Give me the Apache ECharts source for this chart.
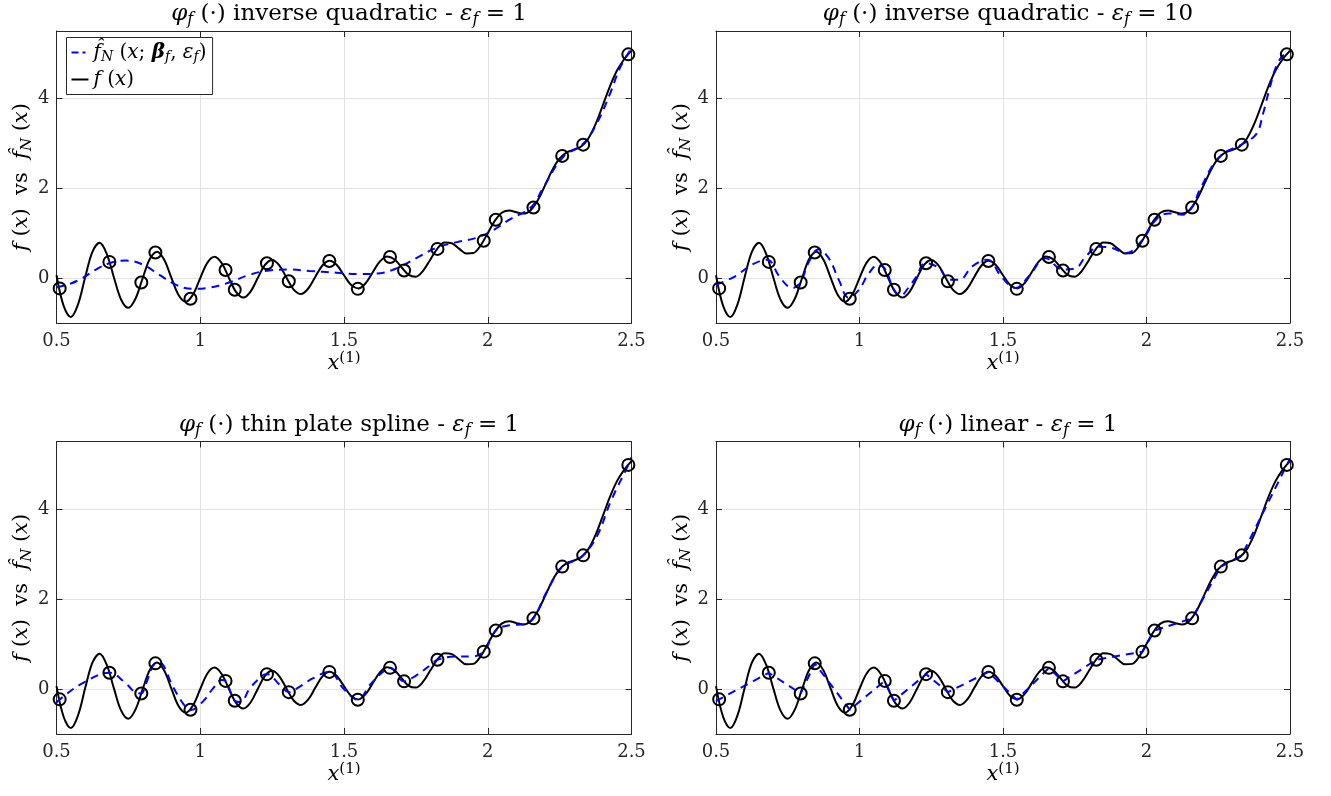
<!DOCTYPE html>
<html><head><meta charset="utf-8">
<script src="https://cdn.jsdelivr.net/npm/echarts@6/dist/echarts.min.js"></script>
<style>html,body{margin:0;padding:0;background:#fff}#c{width:1331px;height:796px}</style>
</head><body><div id="c"></div>
<script>
// ---------- data ----------
const xTicks = [0.5, 1, 1.5, 2, 2.5];
const yTicks = [0, 2, 4];

// true function f(x), sampled along x
const fX = [0.5,0.525,0.55,0.575,0.6,0.625,0.65,0.675,0.7,0.725,0.75,0.775,0.8,0.825,0.85,0.875,0.9,0.925,0.95,0.975,
  1.0,1.025,1.05,1.075,1.1,1.125,1.15,1.175,1.2,1.225,1.25,1.275,1.3,1.325,1.35,1.375,1.4,1.425,1.45,1.475,
  1.5,1.525,1.55,1.575,1.6,1.625,1.65,1.675,1.7,1.725,1.75,1.775,1.8,1.825,1.85,1.875,1.9,1.925,1.95,1.975,
  2.0,2.025,2.05,2.075,2.1,2.125,2.15,2.175,2.2,2.225,2.25,2.275,2.3,2.325,2.35,2.375,2.4,2.425,2.45,2.475,2.5];
const fY = [0.0625,-0.6225,-0.8681,-0.5823,0.0256,0.5855,0.7842,0.5350,0.0081,-0.4820,
  -0.6628,-0.4536,0.0016,0.4295,0.5888,0.4043,0.0001,-0.3822,-0.5263,-0.3626,
  0.0,0.3449,0.4762,0.3289,0.0001,-0.3140,-0.4343,-0.3000,0.0016,0.2912,
  0.4039,0.2830,0.0081,-0.2557,-0.3554,-0.2373,0.0256,0.2807,0.3858,0.2906,
  0.0625,-0.1558,-0.2311,-0.1152,0.1296,0.3702,0.4815,0.4187,0.2401,0.0713,
  0.0307,0.1616,0.4096,0.6570,0.7923,0.7748,0.6561,0.5484,0.5581,0.7247,
  1.0,1.2784,1.4594,1.5059,1.4641,1.4354,1.5164,1.7435,2.0736,2.4108,
  2.6636,2.7981,2.8561,2.9301,3.1087,3.4256,3.8416,4.2692,4.6246,4.8762,5.0625];

// training samples (circles)
const sampleX = [0.511,0.684,0.795,0.844,0.966,1.088,1.12,1.232,1.308,1.449,1.548,1.660,1.709,1.825,1.986,2.028,2.159,2.259,2.332,2.489];
const sampleY = [-0.23,0.36,-0.10,0.57,-0.46,0.18,-0.26,0.33,-0.07,0.38,-0.24,0.47,0.17,0.65,0.83,1.30,1.57,2.72,2.97,4.98];

// inverse quadratic, eps = 1
const iq1X = [0.5,0.55,0.59,0.64,0.684,0.742,0.8,0.858,0.916,0.974,1.033,1.10,1.17,1.24,1.31,1.38,1.474,1.55,1.614,1.684,1.753,1.823,1.893,1.963,2.02,2.08,2.124,2.16,2.19,2.263,2.332,2.379,2.425,2.46,2.5];
const iq1Y = [-0.21,-0.12,0.0,0.2,0.33,0.39,0.30,0.07,-0.15,-0.24,-0.21,-0.10,0.07,0.17,0.19,0.16,0.12,0.09,0.10,0.22,0.45,0.68,0.80,0.90,1.07,1.32,1.46,1.64,1.98,2.70,2.99,3.44,4.10,4.68,5.12];

// inverse quadratic, eps = 10
const iq10X = [0.5,0.567,0.626,0.678,0.719,0.75,0.768,0.783,0.797,0.823,0.858,0.893,0.928,0.963,0.998,1.033,1.067,1.09,1.12,1.143,1.172,1.195,1.23,1.277,1.312,1.347,1.393,1.445,1.498,1.544,1.59,1.649,1.707,1.753,1.788,1.835,1.88,1.928,1.986,2.033,2.079,2.126,2.16,2.185,2.255,2.336,2.383,2.406,2.43,2.453,2.477,2.5];
const iq10Y = [-0.15,0.04,0.30,0.41,0.05,-0.18,-0.22,-0.17,-0.08,0.35,0.64,0.44,-0.04,-0.44,-0.26,0.11,0.30,0.19,-0.26,-0.39,-0.2,0.0,0.33,0.22,-0.04,-0.04,0.26,0.41,0.0,-0.22,0.04,0.44,0.19,0.22,0.48,0.70,0.67,0.56,0.85,1.30,1.44,1.41,1.59,1.96,2.70,2.99,3.21,3.66,4.25,4.73,4.96,5.05];

// thin plate spline
const tpsX = [0.5,0.511,0.591,0.684,0.742,0.775,0.795,0.81,0.844,0.858,0.905,0.94,0.966,1.009,1.044,1.075,1.088,1.12,1.14,1.172,1.219,1.232,1.277,1.308,1.335,1.393,1.449,1.498,1.548,1.59,1.637,1.66,1.709,1.753,1.80,1.825,1.893,1.94,1.986,2.028,2.079,2.126,2.159,2.20,2.259,2.30,2.332,2.38,2.43,2.489,2.5];
const tpsY = [-0.30,-0.23,0.13,0.36,0.12,-0.08,-0.10,0.10,0.57,0.58,0.05,-0.32,-0.47,-0.28,0.01,0.2,0.18,-0.26,-0.29,0.01,0.31,0.33,0.09,-0.07,0.01,0.24,0.38,0.01,-0.24,0.09,0.39,0.47,0.17,0.31,0.53,0.65,0.72,0.72,0.83,1.30,1.42,1.44,1.57,2.10,2.72,2.85,2.97,3.40,4.20,4.98,5.15];

// linear
const linX = [0.5,0.511,0.684,0.795,0.844,0.966,1.088,1.12,1.232,1.308,1.449,1.548,1.660,1.709,1.825,1.986,2.028,2.159,2.259,2.332,2.489,2.5];
const linY = [-0.27,-0.23,0.36,-0.10,0.57,-0.46,0.18,-0.26,0.33,-0.07,0.38,-0.24,0.47,0.17,0.65,0.83,1.30,1.57,2.72,2.97,4.98,5.12];

const panelTitles = [
  '{i|φ}{s|f}{r| (·) inverse quadratic - }{i|ε}{s|f}{r| = 1}',
  '{i|φ}{s|f}{r| (·) inverse quadratic - }{i|ε}{s|f}{r| = 10}',
  '{i|φ}{s|f}{r| (·) thin plate spline - }{i|ε}{s|f}{r| = 1}',
  '{i|φ}{s|f}{r| (·) linear - }{i|ε}{s|f}{r| = 1}'
];
const approxX = [iq1X, iq10X, tpsX, linX];
const approxY = [iq1Y, iq10Y, tpsY, linY];
const approxSmooth = [0.4, 0.4, 0.4, false];

// ---------- chart ----------
const SERIF = 'DejaVu Serif';
const AX = '#262626';
function richSet(fs) {
  const sub = Math.round(fs * 0.7);
  return {
    i: {fontFamily: SERIF, fontStyle: 'italic', fontWeight: 'normal', fontSize: fs, lineHeight: fs + 4, color: '#000'},
    r: {fontFamily: SERIF, fontStyle: 'normal', fontWeight: 'normal', fontSize: fs, lineHeight: fs + 4, color: '#000'},
    b: {fontFamily: SERIF, fontStyle: 'italic', fontWeight: 'bold', fontSize: fs, lineHeight: fs + 4, color: '#000'},
    s: {fontFamily: SERIF, fontStyle: 'italic', fontWeight: 'normal', fontSize: sub, lineHeight: sub, verticalAlign: 'bottom', color: '#000'},
    p: {fontFamily: SERIF, fontStyle: 'normal', fontWeight: 'normal', fontSize: sub, lineHeight: sub, verticalAlign: 'top', color: '#000'}
  };
}
const zip = (a, b) => a.map((v, k) => [v, b[k]]);

const grids = [
  {left: 56.5, top: 31, width: 575, height: 292},
  {left: 716, top: 31, width: 574, height: 292},
  {left: 56.5, top: 441.5, width: 575, height: 292.5},
  {left: 716, top: 441.5, width: 574, height: 292.5}
];

const xAxes = [], yAxes = [], series = [], titles = [];
grids.forEach((g, k) => {
  xAxes.push({
    type: 'value', gridIndex: k, min: 0.5, max: 2.5, interval: 0.5, position: 'bottom',
    axisLine: {show: true, onZero: false, lineStyle: {color: AX, width: 1}},
    axisTick: {show: true, inside: true, length: 6, lineStyle: {color: AX, width: 1}},
    axisLabel: {fontFamily: SERIF, fontSize: 18, color: AX, margin: 9},
    splitLine: {show: true, lineStyle: {color: '#e2e2e2', width: 1}},
    name: '{i|x}{p|(1)}', nameLocation: 'middle', nameGap: 28,
    nameTextStyle: {rich: richSet(21)}
  });
  xAxes.push({
    type: 'value', gridIndex: k, min: 0.5, max: 2.5, interval: 0.5, position: 'top',
    axisLine: {show: true, onZero: false, lineStyle: {color: AX, width: 1}},
    axisTick: {show: true, inside: true, length: 6, lineStyle: {color: AX, width: 1}},
    axisLabel: {show: false}, splitLine: {show: false}
  });
  yAxes.push({
    type: 'value', gridIndex: k, min: -1, max: 5.5, position: 'left',
    axisLine: {show: true, onZero: false, lineStyle: {color: AX, width: 1}},
    axisTick: {show: true, inside: true, length: 6, customValues: yTicks, lineStyle: {color: AX, width: 1}},
    axisLabel: {fontFamily: SERIF, fontSize: 18, color: AX, margin: 7, customValues: yTicks},
    splitLine: {show: true, lineStyle: {color: '#e2e2e2', width: 1}},
    name: '{i|f}{r| (}{i|x}{r|)  vs  }{i|f\u0302}{s|N}{r| (}{i|x}{r|)}', nameLocation: 'middle', nameGap: 21,
    nameTextStyle: {rich: richSet(21)}
  });
  yAxes.push({
    type: 'value', gridIndex: k, min: -1, max: 5.5, position: 'right',
    axisLine: {show: true, onZero: false, lineStyle: {color: AX, width: 1}},
    axisTick: {show: true, inside: true, length: 6, customValues: yTicks, lineStyle: {color: AX, width: 1}},
    axisLabel: {show: false, customValues: yTicks}, splitLine: {show: false}
  });
  series.push({
    name: 'f', type: 'line', xAxisIndex: 2 * k, yAxisIndex: 2 * k, z: 2,
    data: zip(fX, fY), smooth: 0.35, showSymbol: false, symbol: 'none',
    lineStyle: {color: '#000', width: 2}, itemStyle: {color: '#000'}, silent: true
  });
  series.push({
    name: 'fhat', type: 'line', xAxisIndex: 2 * k, yAxisIndex: 2 * k, z: 3,
    data: zip(approxX[k], approxY[k]), smooth: approxSmooth[k], showSymbol: false, symbol: 'none',
    lineStyle: {color: '#0000ff', width: 2, type: [8, 6]}, itemStyle: {color: '#0000ff'}, silent: true
  });
  series.push({
    name: 'samples', type: 'scatter', xAxisIndex: 2 * k, yAxisIndex: 2 * k, z: 4,
    data: zip(sampleX, sampleY), symbol: 'circle', symbolSize: 12,
    itemStyle: {color: 'rgba(255,255,255,0)', borderColor: '#000', borderWidth: 2, opacity: 1}, silent: true
  });
  titles.push({
    text: panelTitles[k], left: g.left + g.width / 2, top: g.top - 35, textAlign: 'center',
    textStyle: {fontWeight: 'normal', rich: richSet(23)}
  });
});

const chart = echarts.init(document.getElementById('c'), null, {renderer: 'canvas'});
chart.setOption({
  backgroundColor: '#fff',
  animation: false,
  title: titles,
  grid: grids,
  xAxis: xAxes,
  yAxis: yAxes,
  legend: {
    left: 66.5, top: 37.5, orient: 'vertical',
    data: [
      {name: 'fhat', icon: 'path://M0,0h7v2h-7z M11,0h3v2h-3z M17,0h0.01v2h-0.01z'},
      {name: 'f', icon: 'path://M0,0h17v2h-17z'}
    ],
    itemWidth: 17, itemHeight: 2.5, itemGap: 5, padding: [5, 6, 5, 5],
    borderColor: AX, borderWidth: 1, backgroundColor: '#fff', borderRadius: 0,
    selectedMode: false,
    formatter: n => n === 'fhat'
      ? '{i|f\u0302}{s|N}{r| (}{i|x}{r|; }{b|β}{s|f}{r|, }{i|ε}{s|f}{r|)}'
      : '{i|f}{r| (}{i|x}{r|)}',
    textStyle: {rich: richSet(20)}
  },
  series: series
});
</script></body></html>
